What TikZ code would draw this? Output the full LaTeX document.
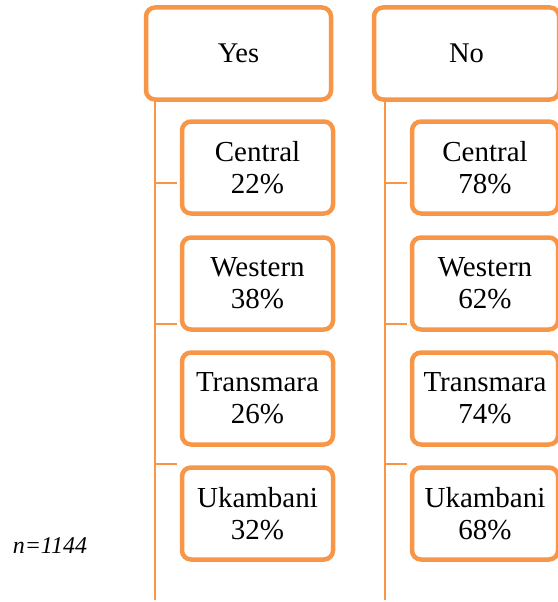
\documentclass[tikz,border=0pt]{standalone}
\usepackage{fontspec}
\setmainfont{Liberation Serif}
\definecolor{borange}{HTML}{F79646}
\begin{document}
\begin{tikzpicture}[x=1pt,y=-1pt,
  head/.style={draw=borange,line width=4.5pt,rounded corners=9pt,fill=white,
    minimum width=185pt,minimum height=92pt,inner sep=0pt,align=center,
    font=\fontsize{28.5}{32}\selectfont},
  cat/.style={draw=borange,line width=4.5pt,rounded corners=9pt,fill=white,
    minimum height=92pt,inner sep=0pt,align=center,
    font=\fontsize{29}{32}\selectfont},
  link/.style={draw=borange,line width=1.8pt}]
\useasboundingbox (0,0) rectangle (557,602);
% headers
\node[head] (yes) at (238.5,53.5) {Yes};
\node[head] (no) at (466.5,53.5) {No};
% spines
\coordinate (ytop) at (155,100);
\coordinate (ybot) at (155,600);
\coordinate (ntop) at (385,100);
\coordinate (nbot) at (385,600);
\draw[link] (ytop) -- (ybot);
\draw[link] (ntop) -- (nbot);
% Yes children
\node[cat,minimum width=151pt] (y1) at (257.5,167.5) {Central\\22\%};
\node[cat,minimum width=151pt] (y2) at (257.5,283.5) {Western\\38\%};
\node[cat,minimum width=151pt] (y3) at (257.5,398.5) {Transmara\\26\%};
\node[cat,minimum width=151pt] (y4) at (257.5,513.5) {Ukambani\\32\%};
% No children
\node[cat,minimum width=146pt] (n1) at (485,167.5) {Central\\78\%};
\node[cat,minimum width=146pt] (n2) at (485,283.5) {Western\\62\%};
\node[cat,minimum width=146pt] (n3) at (485,398.5) {Transmara\\74\%};
\node[cat,minimum width=146pt] (n4) at (485,513.5) {Ukambani\\68\%};
% connectors
\foreach \yy/\i in {183/1,324/2,464/3}{
  \coordinate (ya\i) at (155,\yy);
  \coordinate (yb\i) at (177,\yy);
  \coordinate (na\i) at (385,\yy);
  \coordinate (nb\i) at (407,\yy);
  \draw[link] (ya\i) -- (yb\i);
  \draw[link] (na\i) -- (nb\i);
}
\node[font=\fontsize{24}{27}\selectfont\itshape,inner sep=0pt] (n) at (50,546) {n=1144};
\end{tikzpicture}
\end{document}
